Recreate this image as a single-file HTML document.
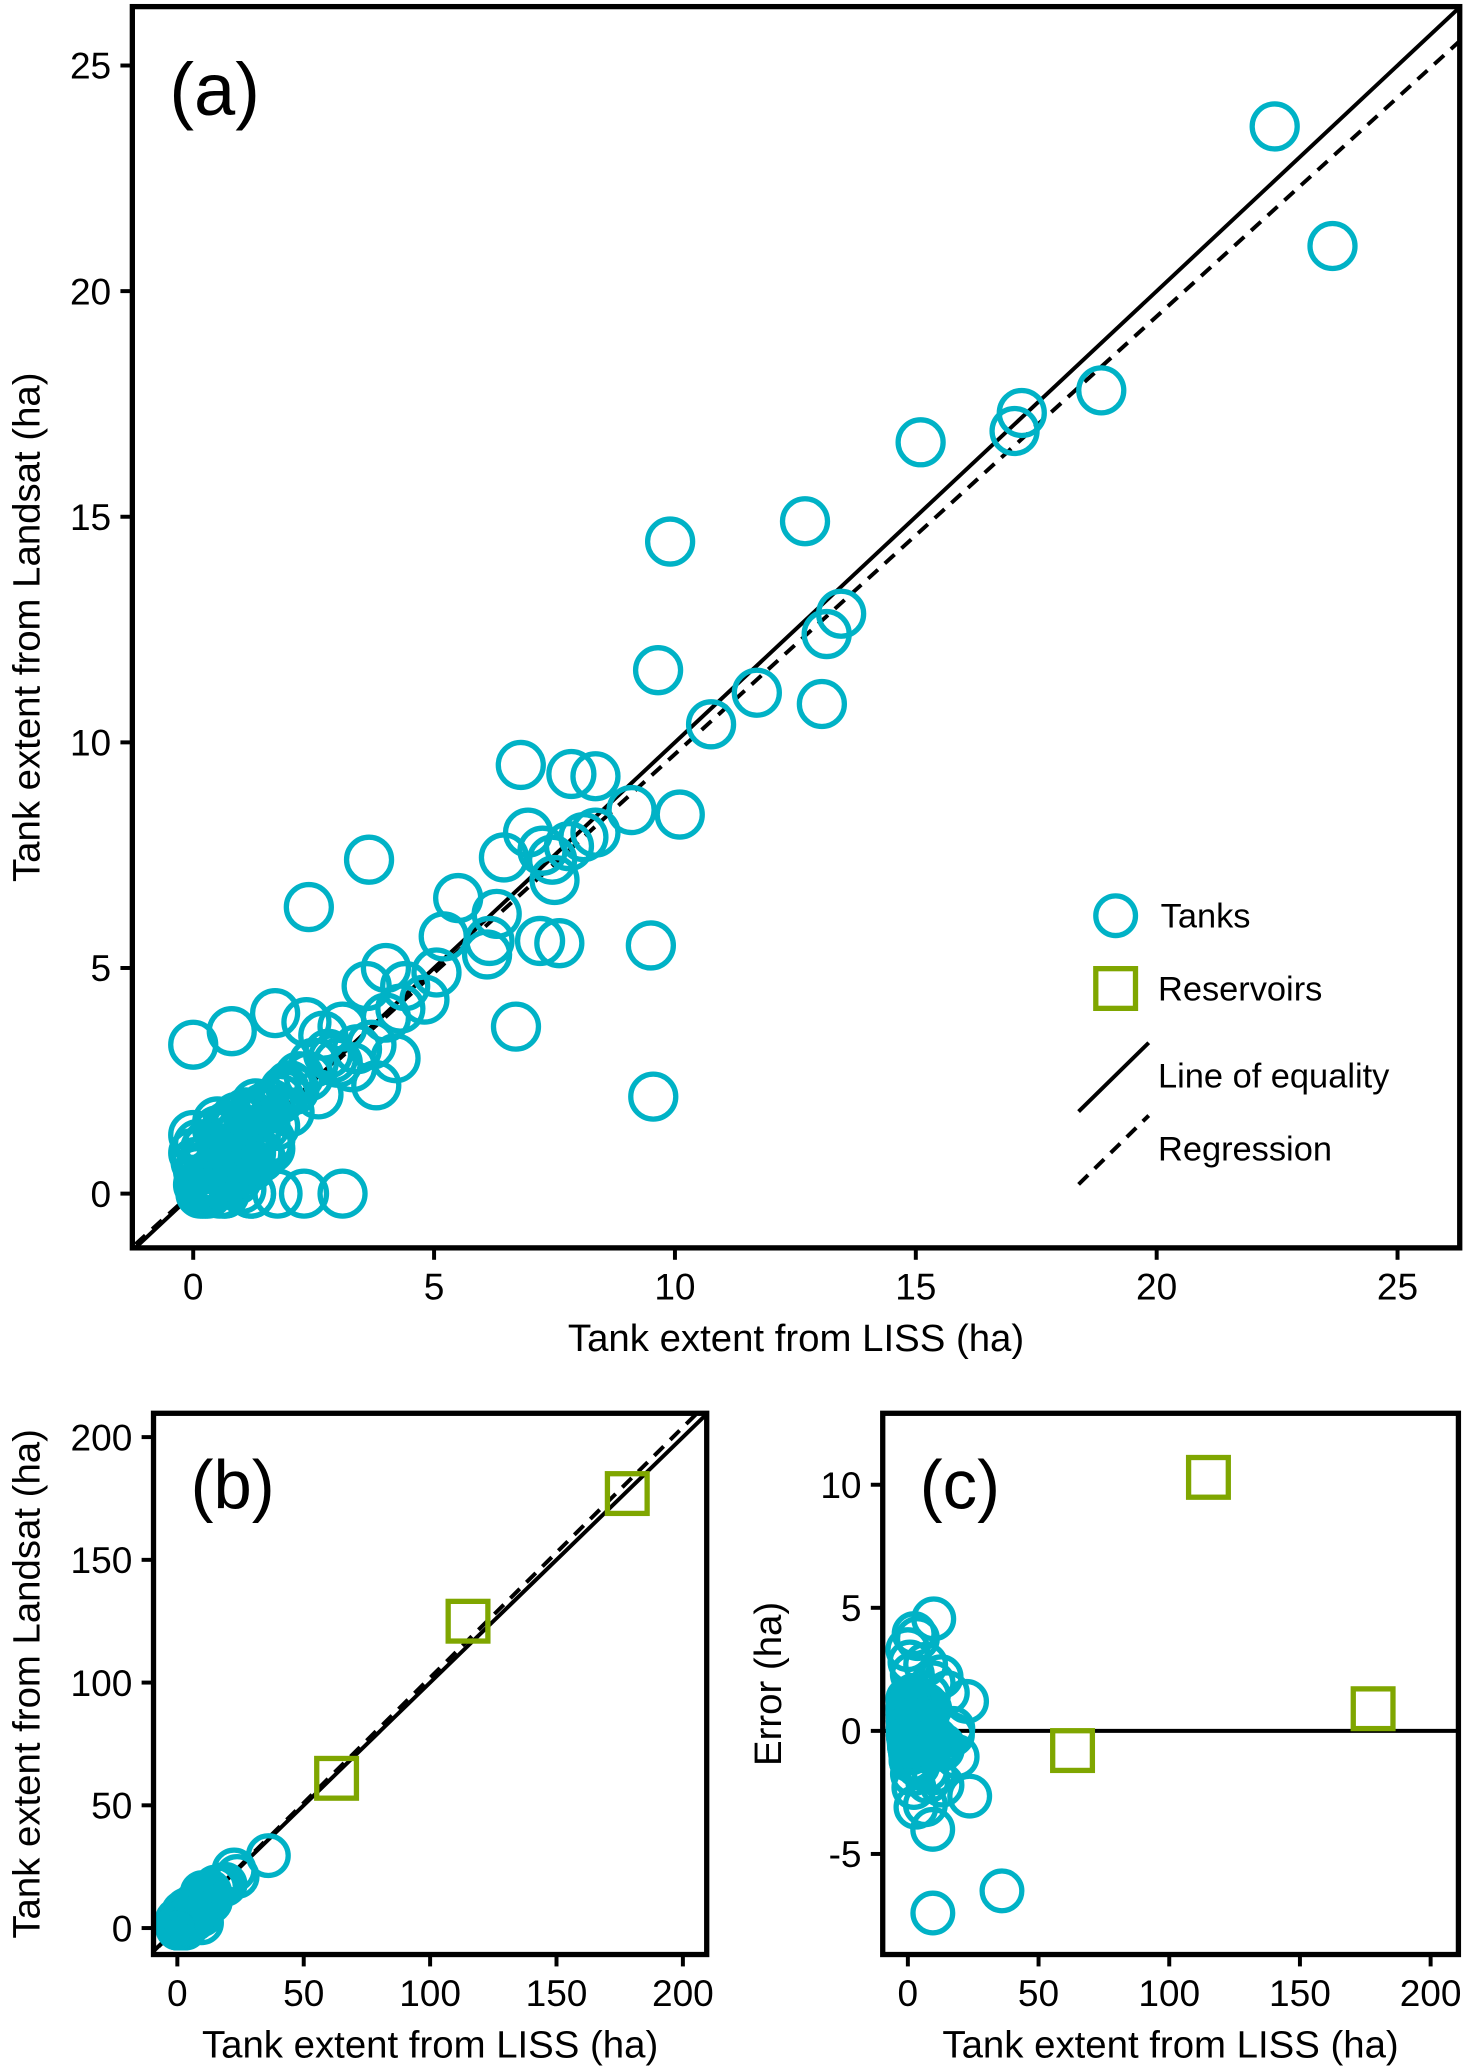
<!DOCTYPE html>
<html><head><meta charset="utf-8"><style>
html,body{margin:0;padding:0;background:#fff}
svg{display:block}
text{font-family:"Liberation Sans",sans-serif;fill:#000}
</style></head><body>
<svg id="fig" width="1469" height="2067" viewBox="0 0 1110 1562" preserveAspectRatio="none" xmlns="http://www.w3.org/2000/svg"></svg>
<script>
// Panel (a) tank data (LISS ha, Landsat ha)
const tankX = [0,0.8,1.7,2.4,3.65,3.1,2.3,1.75,1.2,0.65,0.25,2.35,2.7,3.1,3.7,4.2,3.8,4.0,4.3,3.6,4.0,4.4,4.8,5.05,5.2,5.5,6.1,6.3,6.15,6.7,6.8,6.45,6.95,7.25,7.45,7.5,7.2,7.6,7.85,8.35,7.8,8.1,8.35,9.1,10.1,9.5,9.55,9.65,9.9,10.75,11.7,12.7,13.05,13.15,13.45,15.1,17.05,17.2,18.85,22.45,23.65,
 0.1,0.2,0.3,0.4,0.5,0.6,0.7,0.8,0.9,1.0,1.1,1.2,1.3,1.4,1.5,1.6,1.8,2.0,2.2,2.5,2.8,3.0,0.15,0.35,0.55,0.75,0.95,1.15,1.35,1.55,0.05,0.25,0.45,0.65,0.85,1.05,1.25,1.45,1.7,1.9,0.3,0.6,0.9,1.2,2.0,2.6,3.3,0.0,0.5,1.0,
 0.1,0.3,0.5,0.7,0.9,1.1,1.3,0.2,0.4,0.6,0.8,1.0,1.2,1.4,1.6,0.0,0.3,0.6,0.9,1.2,1.5,1.8,2.1,0.4,0.8,1.2,1.6,0.2,0.7,1.1,2.4,2.9,1.9,3.4,0.1,0.5,0.9,1.3];
const tankY = [3.3,3.6,4.0,6.35,7.4,0,0,0,0,0,0,3.8,3.5,3.7,3.3,3.0,2.4,3.9,4.1,4.6,5.0,4.6,4.3,4.9,5.7,6.55,5.3,6.2,5.6,3.7,9.5,7.45,8.0,7.6,7.4,6.95,5.6,5.55,9.3,9.25,7.7,7.9,8.0,8.5,8.4,5.5,2.15,11.6,14.45,10.4,11.1,14.9,10.85,12.4,12.85,16.65,16.9,17.3,17.8,23.65,21.0,
 0.5,0.2,0.8,0.4,0.3,1.0,0.6,1.2,0.9,1.4,1.0,1.6,1.3,1.8,1.5,2.0,2.1,2.4,2.6,2.9,3.1,2.9,0.0,0.1,0.0,0.3,0.5,0.7,0.9,1.1,0.7,1.0,0.2,0.0,0.6,0.8,1.7,1.9,1.5,2.2,0.0,0.5,0.3,0.0,1.8,2.2,2.8,1.3,1.6,0.1,
 0.2,0.4,0.6,0.8,1.0,1.2,1.4,0.0,0.1,0.2,0.4,0.5,0.6,0.8,1.0,0.9,1.1,1.3,1.5,1.7,1.9,2.1,2.3,0.3,0.6,0.9,1.2,0.6,1.5,1.8,2.6,3.0,2.3,3.2,1.1,1.4,1.7,2.0];
// Larger tanks (beyond panel a)
const bigTankX = [36];
const bigTankY = [29.5];
// Reservoirs
const resX = [63,115,178];
const resY = [61,125,177];
const resErr = [-0.8,10.3,0.9];
// Regression coefficients
const regA = [0.97,0.04];
const regB = [1.02,0];
const ticksA = [0,5,10,15,20,25];
const ticksB = [0,50,100,150,200];
const ticksCY = [-5,0,5,10];

const NS="http://www.w3.org/2000/svg";
const svg=document.getElementById('fig');
function el(tag,attrs,parent){const e=document.createElementNS(NS,tag);for(const k in attrs)e.setAttribute(k,attrs[k]);(parent||svg).appendChild(e);return e;}
function txt(s,attrs,parent){const t=el('text',attrs,parent);t.textContent=s;return t;}
const CY='#00b2c6', GR='#7fa600';

function panel(name,box,sx,sy,xt,yt,xtitle,ytitle,label,ytx){
  const g=el('g',{});
  
  
  const id='clip-'+name;
  const cp=el('clipPath',{id:id},g);el('rect',{x:box[0],y:box[1],width:box[2]-box[0],height:box[3]-box[1]},cp);
  const plot=el('g',{'clip-path':'url(#'+id+')'},g);
  xt.forEach(v=>{const x=sx(v);el('line',{x1:x,x2:x,y1:box[3],y2:box[3]+9,stroke:'#000','stroke-width':3},g);
    const t=txt(v,{x:x,y:box[3]+39,'font-size':28,'text-anchor':'middle'},g);});
  yt.forEach(v=>{const y=sy(v);el('line',{x1:box[0],x2:box[0]-9,y1:y,y2:y,stroke:'#000','stroke-width':3},g);
    const t=txt(v,{x:box[0]-16,y:y+10,'font-size':28,'text-anchor':'end'},g);});
  const xtt=txt(xtitle,{x:(box[0]+box[2])/2,y:box[3]+78,'font-size':29,'text-anchor':'middle'},g);
  
  const cyv=(box[1]+box[3])/2;
  const ytt=txt(ytitle,{x:ytx,y:cyv,'font-size':29,'text-anchor':'middle',transform:'rotate(-90 '+ytx+' '+cyv+')'},g);
  
  const lt=txt(label,{x:box[0]+28,y:box[1]+(name==='panel-a'?82:72),'font-size':name==='panel-a'?56:52},g);
  
  el('rect',{x:box[0],y:box[1],width:box[2]-box[0],height:box[3]-box[1],fill:'none',stroke:'#000','stroke-width':4},g);
  return plot;
}
function circ(p,x,y,r){const c=el('circle',{cx:x,cy:y,r:r,fill:'none',stroke:CY,'stroke-width':4},p);
  }
function sq(p,x,y,h){const s=el('rect',{x:x-h,y:y-h,width:2*h,height:2*h,fill:'none',stroke:GR,'stroke-width':4},p);
  }

// Panel a
const ax=v=>146+v*36.4, ay=v=>902-v*34.1;
const pa=panel('panel-a',[100,5,1103,943],ax,ay,ticksA,ticksA,'Tank extent from LISS (ha)','Tank extent from Landsat (ha)','(a)',30);
el('line',{x1:ax(-5),y1:ay(-5),x2:ax(30),y2:ay(30),stroke:'#000','stroke-width':3},pa);
el('line',{x1:ax(-5),y1:ay(regA[0]*-5+regA[1]),x2:ax(30),y2:ay(regA[0]*30+regA[1]),stroke:'#000','stroke-width':3,'stroke-dasharray':'10 7'},pa);
tankX.forEach((x,i)=>circ(pa,ax(x),ay(tankY[i]),17));
// legend a
const lg=el('g',{});
el('circle',{cx:843,cy:692,r:15,fill:'none',stroke:CY,'stroke-width':4},lg);
txt('Tanks',{x:877,y:701,'font-size':26},lg);
el('rect',{x:828,y:732,width:30,height:30,fill:'none',stroke:GR,'stroke-width':4},lg);
txt('Reservoirs',{x:875,y:756,'font-size':26},lg);
el('line',{x1:815,y1:840,x2:868,y2:788,stroke:'#000','stroke-width':3},lg);
txt('Line of equality',{x:875,y:822,'font-size':26},lg);
el('line',{x1:815,y1:895,x2:868,y2:843,stroke:'#000','stroke-width':3,'stroke-dasharray':'10 7'},lg);
txt('Regression',{x:875,y:877,'font-size':26},lg);

// Panel b
const bx=v=>134+v*1.91, by=v=>1457-v*1.855;
const pb=panel('panel-b',[116,1068,534,1477],bx,by,ticksB,ticksB,'Tank extent from LISS (ha)','Tank extent from Landsat (ha)','(b)',30);
el('line',{x1:bx(-20),y1:by(-20),x2:bx(220),y2:by(220),stroke:'#000','stroke-width':3},pb);
el('line',{x1:bx(-20),y1:by(-20*regB[0]+regB[1]),x2:bx(220),y2:by(220*regB[0]+regB[1]),stroke:'#000','stroke-width':3,'stroke-dasharray':'10 7'},pb);
tankX.concat(bigTankX).forEach((x,i)=>circ(pb,bx(x),by(tankY.concat(bigTankY)[i]),15));
resX.forEach((x,i)=>sq(pb,bx(x),by(resY[i]),15));

// Panel c
const cx=v=>686+v*1.975, cy=v=>1308-v*18.6;
const pc=panel('panel-c',[667,1068,1102,1477],cx,cy,ticksB,ticksCY,'Tank extent from LISS (ha)','Error (ha)','(c)',590);
el('line',{x1:667,y1:cy(0),x2:1102,y2:cy(0),stroke:'#000','stroke-width':3},pc);
tankX.concat(bigTankX).forEach((x,i)=>circ(pc,cx(x),cy(tankY.concat(bigTankY)[i]-x),15));
resX.forEach((x,i)=>sq(pc,cx(x),cy(resErr[i]),15));
</script>
</body></html>
